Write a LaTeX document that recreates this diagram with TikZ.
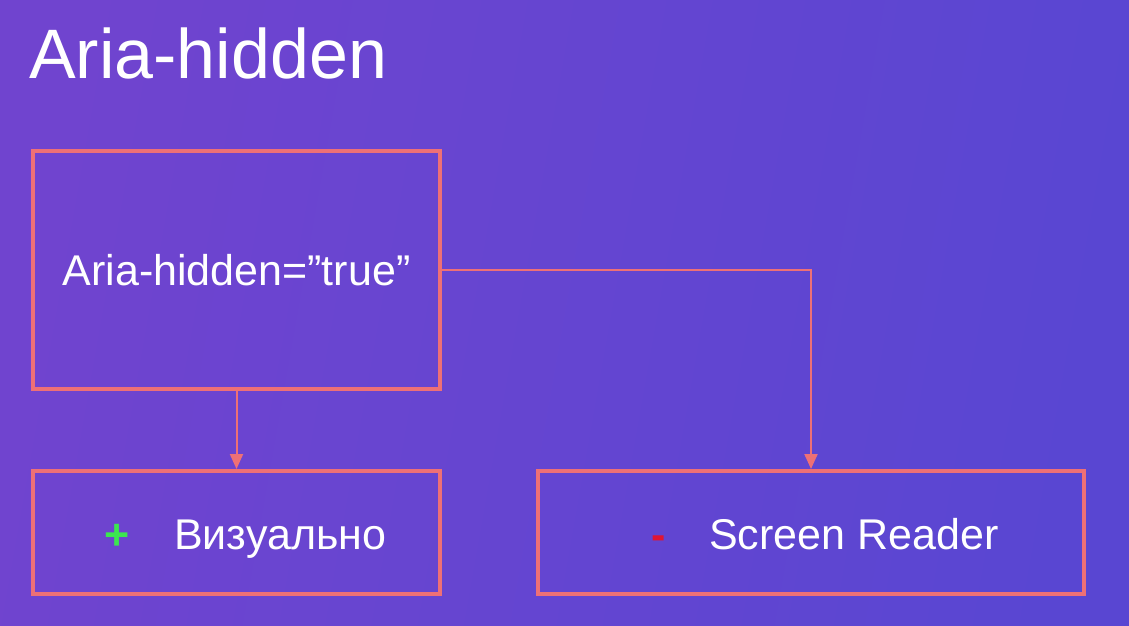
\documentclass[tikz,border=0pt]{standalone}
\usepackage{fontspec}
\setmainfont{Liberation Sans}
\usepackage{xcolor}
\usetikzlibrary{arrows.meta,positioning,calc}
\definecolor{bgleft}{RGB}{112,68,207}
\definecolor{bgright}{RGB}{89,70,210}
\definecolor{salmon}{RGB}{238,112,118}
\definecolor{plusgreen}{RGB}{60,230,80}
\definecolor{minusred}{RGB}{225,20,50}
\newcommand{\bigtext}{\fontsize{43}{50}\selectfont}
\begin{document}
\begin{tikzpicture}[x=1pt,y=-1pt,
	box/.style={draw=salmon,line width=4pt,inner sep=0pt,text=white,font=\bigtext},
	link/.style={draw=salmon,line width=2pt,-{Triangle[width=13pt,length=15pt]}},
	caption/.style={anchor=base west,inner sep=0pt,text=white,font=\bigtext},
	sign/.style={anchor=base,inner sep=0pt,font=\bigtext\bfseries},
	]
\useasboundingbox (0,0) rectangle (1129,625);
\shade[left color=bgleft,right color=bgright,shading angle=80] (0,0) rectangle (1129,625);

\node[anchor=base west,inner sep=0pt,text=white,font=\fontsize{70}{80}\selectfont] (title) at (29,78) {Aria-hidden};

\node[box,minimum width=407pt,minimum height=238pt] (attr) at (236.5,270) {Aria-hidden=”true”};
\node[box,minimum width=407pt,minimum height=123pt] (visual) at (236.5,532.5) {};
\node[box,minimum width=546pt,minimum height=123pt] (reader) at (811,532.5) {};

\node[sign,text=plusgreen] (plus) at (117,549) {+};
\node[caption] (visualtext) at (174,549) {Визуально};
\node[sign,text=minusred] (minus) at (659,549) {-};
\node[caption] (readertext) at (709,549) {Screen Reader};

\draw[link] (attr.south) -- (visual.north);
\draw[link] (attr.east) -| (reader.north);
\end{tikzpicture}
\end{document}
